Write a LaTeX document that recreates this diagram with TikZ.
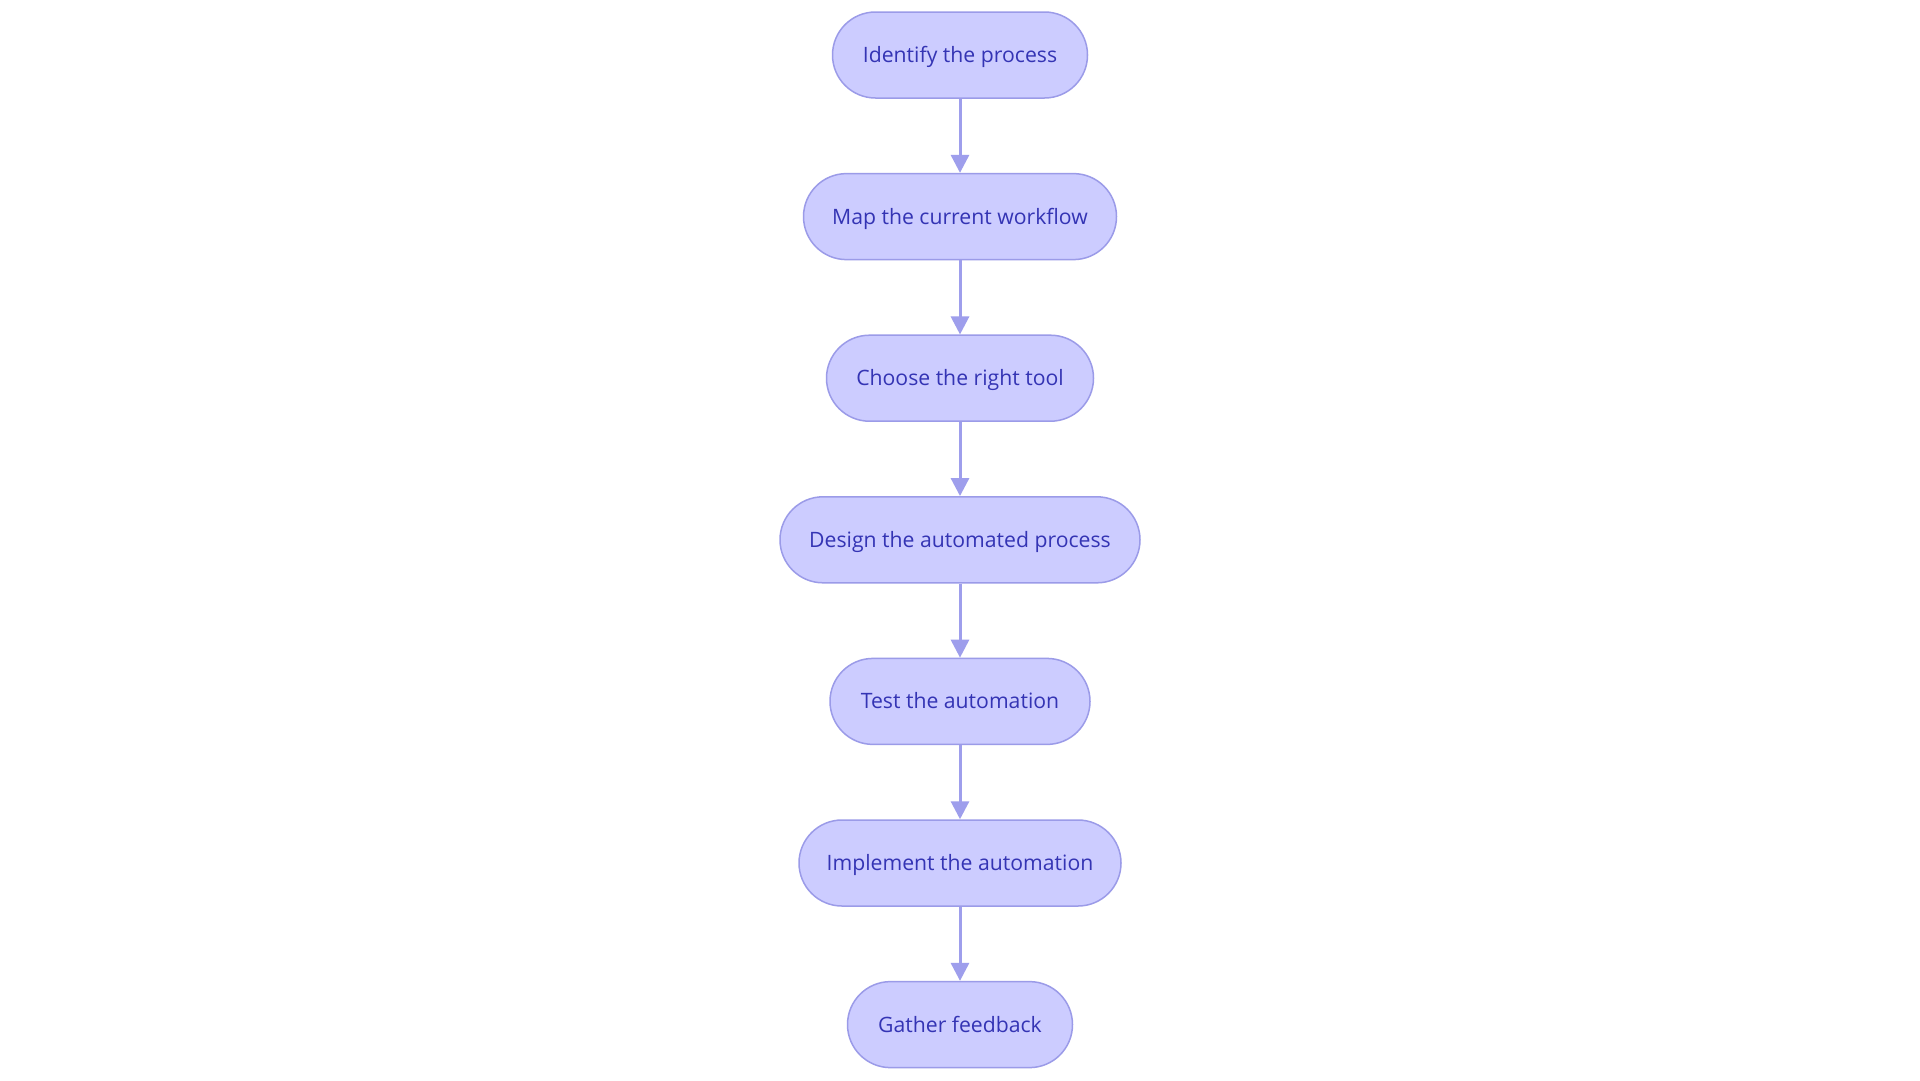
\documentclass[tikz,border=0pt]{standalone}
\usepackage{fontspec}
\setmainfont{Open Sans}
\usetikzlibrary{arrows.meta}
\definecolor{boxfill}{RGB}{204,204,255}
\definecolor{boxline}{RGB}{155,155,232}
\definecolor{arrowcol}{RGB}{158,158,236}
\definecolor{txtcol}{RGB}{52,52,180}
\begin{document}
\begin{tikzpicture}[x=1pt,y=-1pt,
  stepbox/.style={draw=boxline, fill=boxfill, line width=1.5pt, rounded corners=43pt,
    minimum height=86pt, inner sep=0pt, text height=15.1pt, text depth=0pt,
    text=txtcol, font=\fontsize{21.2}{25}\selectfont},
  conn/.style={draw=arrowcol, line width=3pt, -{Triangle[length=18pt,width=18pt]}}]
\useasboundingbox[fill=white] (0,0) rectangle (1920,1080);
\node[stepbox, minimum width=255pt] (n1) at (960,55) {Identify the process};
\node[stepbox, minimum width=313pt] (n2) at (960,216.6) {Map the current workflow};
\node[stepbox, minimum width=267pt] (n3) at (960,378.2) {Choose the right tool};
\node[stepbox, minimum width=360pt] (n4) at (960,539.8) {Design the automated process};
\node[stepbox, minimum width=260pt] (n5) at (960,701.4) {Test the automation};
\node[stepbox, minimum width=322pt] (n6) at (960,863) {Implement the automation};
\node[stepbox, minimum width=225pt] (n7) at (960,1024.6) {Gather feedback};
\draw[conn] (n1) -- (n2);
\draw[conn] (n2) -- (n3);
\draw[conn] (n3) -- (n4);
\draw[conn] (n4) -- (n5);
\draw[conn] (n5) -- (n6);
\draw[conn] (n6) -- (n7);
\end{tikzpicture}
\end{document}
